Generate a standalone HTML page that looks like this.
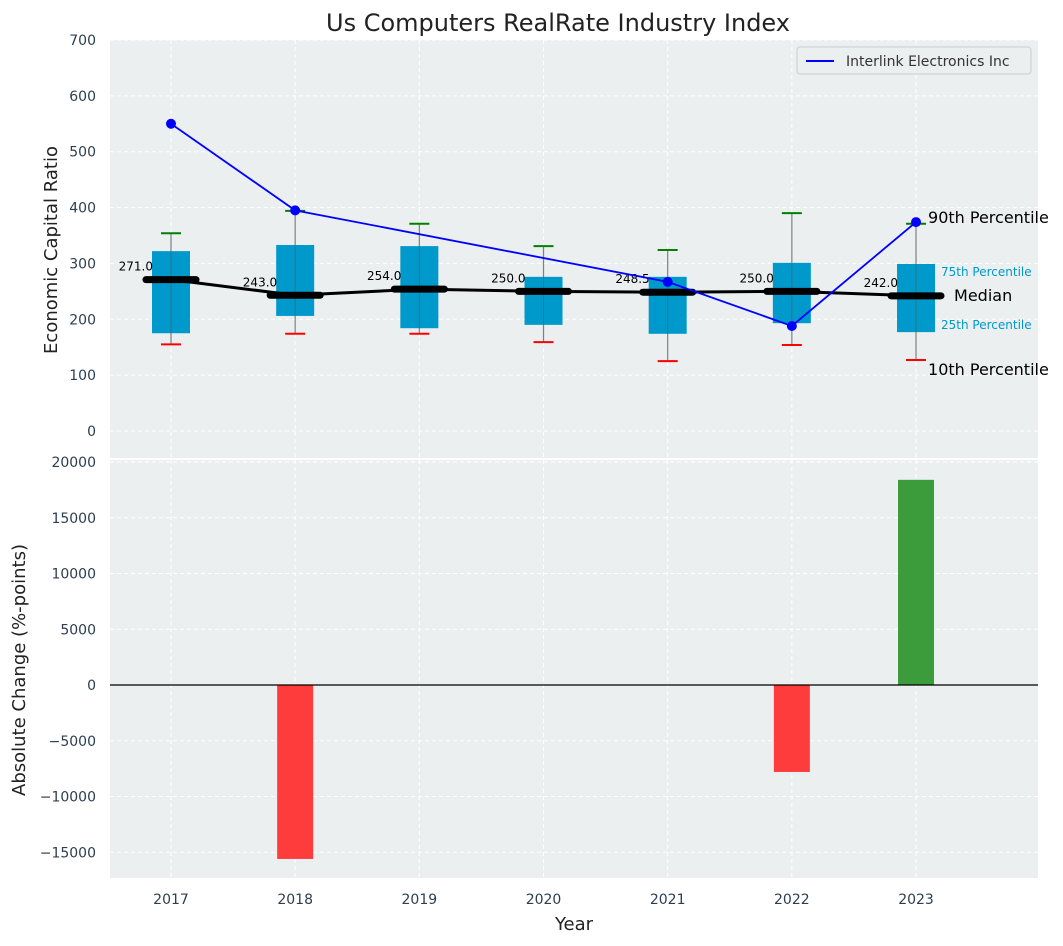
<!DOCTYPE html>
<html><head><meta charset="utf-8"><style>
body{margin:0;background:#fff;font-family:"DejaVu Sans","Liberation Sans",sans-serif}
svg text{font-family:"DejaVu Sans","Liberation Sans",sans-serif}
</style></head><body>
<svg id="c" width="1063" height="942" xmlns="http://www.w3.org/2000/svg"></svg>
<script>
const years=[2017,2018,2019,2020,2021,2022,2023];
const p10=[155,174,174,159,125,154,127];
const q1=[175,206,184,190,174,193,177];
const med=[271,243,254,250,248.5,250,242];
const q3=[322,333,331,276,276,301,299];
const p90=[354,394,371,331,324,390,371];
const lineYears=[2017,2018,2021,2022,2023];
const lineVals=[550,395,267,188,374];
const changeYears=[2018,2022,2023];
const changeVals=[-15600,-7800,18400];
const topTicks=[0,100,200,300,400,500,600,700];
const botTicks=[-15000,-10000,-5000,0,5000,10000,15000,20000];
const L=110,R=1038;
const x=v=>171+(v-2017)*124.17;
const yT=v=>431-v*0.5586;
const yB=v=>685-v*0.01115;
const S=document.getElementById('c');const NS='http://www.w3.org/2000/svg';
function el(t,a,txt){const e=document.createElementNS(NS,t);for(const k in a)e.setAttribute(k,a[k]);if(txt!==undefined)e.textContent=txt;S.appendChild(e);return e;}
let e=el('rect',{x:L,y:40,width:R-L,height:418,fill:'#ebeff0'});

e=el('rect',{x:L,y:460,width:R-L,height:418,fill:'#ebeff0'});

years.forEach(v=>{el('line',{x1:x(v),x2:x(v),y1:40,y2:458,stroke:'#fff','stroke-dasharray':'4,3','stroke-width':1});el('line',{x1:x(v),x2:x(v),y1:460,y2:878,stroke:'#fff','stroke-dasharray':'4,3','stroke-width':1});
e=el('text',{x:x(v),y:904,'text-anchor':'middle','font-size':14,fill:'#2d3e50'},v);
});
topTicks.forEach(v=>{el('line',{x1:L,x2:R,y1:yT(v),y2:yT(v),stroke:'#fff','stroke-dasharray':'4,3'});
e=el('text',{x:96,y:yT(v)+5,'text-anchor':'end','font-size':14,fill:'#2d3e50'},v);
});
botTicks.forEach(v=>{el('line',{x1:L,x2:R,y1:yB(v),y2:yB(v),stroke:'#fff','stroke-dasharray':'4,3'});
e=el('text',{x:96,y:yB(v)+5,'text-anchor':'end','font-size':14,fill:'#2d3e50'},(v<0?'\u2212'+(-v):v));
});
years.forEach((yr,i)=>{const cx=x(yr);
e=el('line',{x1:cx,x2:cx,y1:yT(p90[i]),y2:yT(p10[i]),stroke:'#808080','stroke-width':1.2});

e=el('rect',{x:cx-19,y:yT(q3[i]),width:38,height:yT(q1[i])-yT(q3[i]),fill:'#0099cc'});

el('line',{x1:cx,x2:cx,y1:yT(q3[i]),y2:yT(q1[i]),stroke:'#555','stroke-width':1,opacity:0.6});
e=el('line',{x1:cx-10,x2:cx+10,y1:yT(p90[i]),y2:yT(p90[i]),stroke:'green','stroke-width':2});

e=el('line',{x1:cx-10,x2:cx+10,y1:yT(p10[i]),y2:yT(p10[i]),stroke:'red','stroke-width':2});

e=el('text',{x:cx-18,y:yT(med[i])-9,'text-anchor':'end','font-size':12,fill:'#000'},med[i].toFixed(1));
});
e=el('polyline',{points:years.map((y,i)=>x(y)+','+yT(med[i])).join(' '),fill:'none',stroke:'#000','stroke-width':3});

years.forEach((yr,i)=>{e=el('line',{x1:x(yr)-25,x2:x(yr)+25,y1:yT(med[i]),y2:yT(med[i]),stroke:'#000','stroke-width':7,'stroke-linecap':'round'});
});
e=el('polyline',{points:lineYears.map((y,i)=>x(y)+','+yT(lineVals[i])).join(' '),fill:'none',stroke:'blue','stroke-width':1.8});

lineYears.forEach((y,i)=>{e=el('circle',{cx:x(y),cy:yT(lineVals[i]),r:5,fill:'blue'});
});
const lx=x(2023);
[['90th Percentile',lx+12,yT(p90[6])-1,16,'#000'],['75th Percentile',lx+25,yT(q3[6])+12,12,'#0099cc'],['Median',lx+38,yT(med[6])+5,16,'#000'],['25th Percentile',lx+25,yT(q1[6])-3,12,'#0099cc'],['10th Percentile',lx+12,yT(p10[6])+15,16,'#000']].forEach(a=>{
e=el('text',{x:a[1],y:a[2],'font-size':a[3],fill:a[4]},a[0]);});
e=el('rect',{x:797,y:47,width:234,height:27,rx:3,fill:'#ebeff0',stroke:'#ccc'});

el('line',{x1:806,x2:834,y1:61,y2:61,stroke:'blue','stroke-width':2});
e=el('text',{x:846,y:66,'font-size':14,fill:'#333'},'Interlink Electronics Inc');

changeYears.forEach((yr,i)=>{const v=changeVals[i];
e=el('rect',{x:x(yr)-18,y:Math.min(yB(v),yB(0)),width:36,height:Math.abs(yB(v)-yB(0)),fill:v<0?'#ff3c3c':'#3c9c3c'});
});
el('line',{x1:L,x2:R,y1:yB(0),y2:yB(0),stroke:'#000','stroke-width':1.2});
el('line',{x1:L,x2:R,y1:459,y2:459,stroke:'#fff','stroke-width':2});
e=el('text',{x:558,y:31,'text-anchor':'middle','font-size':24,fill:'#222'},'Us Computers RealRate Industry Index');

e=el('text',{x:574,y:930,'text-anchor':'middle','font-size':18,fill:'#222'},'Year');

e=el('text',{x:57,y:250,'text-anchor':'middle','font-size':18,fill:'#222',transform:'rotate(-90 57 250)'},'Economic Capital Ratio');

e=el('text',{x:25,y:670,'text-anchor':'middle','font-size':18,fill:'#222',transform:'rotate(-90 25 670)'},'Absolute Change (%-points)');

</script>
</body></html>
